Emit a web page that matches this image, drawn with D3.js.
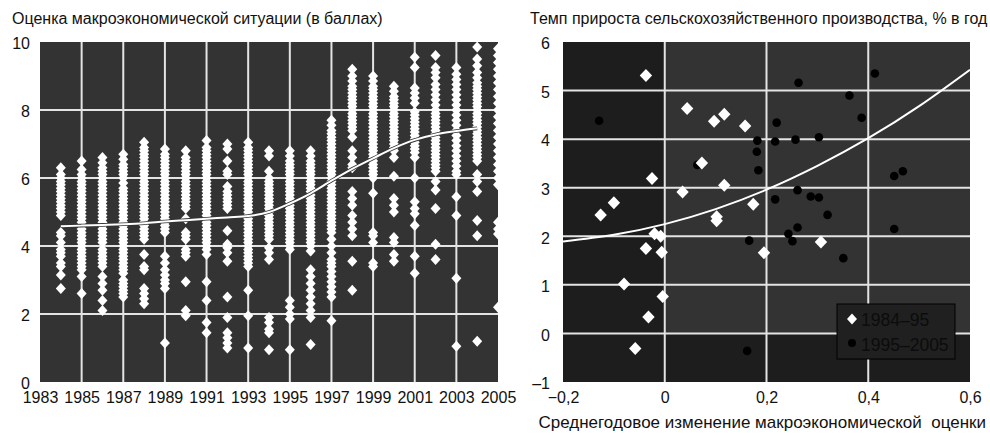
<!DOCTYPE html>
<html>
<head>
<meta charset="utf-8">
<script src="https://cdn.jsdelivr.net/npm/d3@7"></script>
<style>
    body { margin: 0; background: #fff; }
    svg text {
        font-family: 'Liberation Sans', Arial, sans-serif;
        font-size: 16px;
        fill: #111;
    }
</style>
</head>
<body>
<svg id="chart" width="990" height="435"></svg>
<script>
// ---- left panel: macro score by country, one column per year
const years = [1984, 1985, 1986, 1987, 1988, 1989, 1990, 1991, 1992, 1993, 1994,
    1995, 1996, 1997, 1998, 1999, 2000, 2001, 2002, 2003, 2004, 2005];
const yearTicks = [1983, 1985, 1987, 1989, 1991, 1993, 1995, 1997, 1999, 2001, 2003, 2005];
const scoreTicks = [0, 2, 4, 6, 8, 10];

const scores = [
    [6.3, 6.1, 6.0, 5.9, 5.8, 5.7, 5.6, 5.5, 5.4, 5.3, 5.2, 5.1, 5.0, 4.9, 4.4, 4.3, 4.1, 3.9, 3.8, 3.7, 3.5, 3.4, 3.15, 2.75],
    [6.5, 6.25, 6.1, 6.0, 5.9, 5.8, 5.7, 5.6, 5.5, 5.4, 5.3, 5.2, 5.1, 5.0, 4.9, 4.8, 4.7, 4.6, 4.5, 4.4, 4.3, 4.2, 4.1, 4.0, 3.9, 3.8, 3.7, 3.6, 3.5, 3.4, 3.3, 3.1, 2.6],
    [6.6, 6.45, 6.3, 6.2, 6.1, 6.0, 5.9, 5.8, 5.7, 5.6, 5.5, 5.4, 5.3, 5.2, 5.1, 5.0, 4.9, 4.8, 4.7, 4.6, 4.5, 4.4, 4.3, 4.2, 4.1, 3.9, 3.8, 3.7, 3.6, 3.5, 3.4, 3.1, 2.9, 2.7, 2.4, 2.1],
    [6.7, 6.55, 6.4, 6.3, 6.2, 6.1, 6.0, 5.85, 5.7, 5.6, 5.5, 5.4, 5.3, 5.2, 5.1, 5.0, 4.9, 4.8, 4.7, 4.6, 4.5, 4.4, 4.3, 4.2, 4.1, 4.0, 3.9, 3.8, 3.7, 3.6, 3.5, 3.4, 3.3, 3.2, 3.0, 2.9, 2.8, 2.7, 2.6, 2.5],
    [7.05, 6.9, 6.8, 6.7, 6.6, 6.5, 6.4, 6.3, 6.2, 6.1, 6.0, 5.9, 5.8, 5.7, 5.6, 5.5, 5.4, 5.3, 5.2, 5.1, 5.0, 4.9, 4.8, 4.7, 4.6, 4.5, 4.4, 4.3, 4.2, 3.75, 3.4, 3.3, 2.75, 2.6, 2.45, 2.3],
    [6.85, 6.7, 6.6, 6.5, 6.4, 6.3, 6.2, 6.1, 6.0, 5.9, 5.8, 5.7, 5.6, 5.5, 5.4, 5.3, 5.2, 5.1, 5.0, 4.9, 4.8, 4.7, 4.6, 4.5, 4.4, 3.7, 3.5, 3.3, 3.15, 3.0, 2.9, 2.75, 1.15],
    [6.8, 6.6, 6.5, 6.4, 6.3, 6.2, 6.1, 6.0, 5.9, 5.8, 5.7, 5.6, 5.5, 5.4, 5.3, 5.2, 5.1, 4.8, 4.4, 4.3, 4.2, 3.9, 3.8, 3.7, 2.95, 2.1, 1.95],
    [7.1, 6.9, 6.8, 6.7, 6.6, 6.5, 6.4, 6.3, 6.2, 6.1, 6.0, 5.9, 5.8, 5.7, 5.6, 5.5, 5.4, 5.3, 5.2, 5.1, 5.0, 4.9, 4.8, 4.7, 4.6, 4.5, 4.4, 4.3, 4.2, 4.1, 4.0, 3.9, 3.75, 2.95, 2.4, 1.75, 1.45],
    [7.0, 6.85, 6.5, 6.2, 6.1, 5.75, 5.6, 5.5, 5.4, 5.3, 5.2, 5.1, 4.45, 4.05, 3.95, 3.8, 3.55, 2.5, 1.9, 1.45, 1.3, 1.15, 1.0],
    [7.05, 6.9, 6.8, 6.7, 6.6, 6.5, 6.4, 6.3, 6.2, 6.1, 6.0, 5.9, 5.8, 5.7, 5.6, 5.5, 5.4, 5.3, 5.2, 5.1, 5.0, 4.9, 4.8, 4.7, 4.6, 4.5, 4.4, 4.3, 4.2, 4.1, 4.0, 3.9, 3.8, 3.7, 3.6, 3.5, 3.4, 2.7, 1.95, 1.0],
    [6.8, 6.65, 6.2, 6.0, 5.9, 5.8, 5.7, 5.6, 5.5, 5.4, 5.3, 5.2, 5.1, 5.0, 4.9, 4.8, 4.7, 4.6, 4.5, 4.4, 4.3, 4.2, 3.95, 3.8, 3.6, 1.9, 1.75, 1.55, 1.45, 0.95],
    [6.8, 6.65, 6.5, 6.4, 6.3, 6.2, 6.1, 6.0, 5.9, 5.8, 5.7, 5.6, 5.5, 5.4, 5.3, 5.2, 5.1, 5.0, 4.9, 4.8, 4.7, 4.6, 4.5, 4.4, 4.3, 4.2, 4.1, 4.0, 3.9, 2.4, 2.2, 2.0, 1.85, 0.95],
    [6.8, 6.65, 6.5, 6.4, 6.3, 6.2, 6.1, 6.0, 5.9, 5.8, 5.7, 5.6, 5.5, 5.4, 5.3, 5.2, 5.1, 5.0, 4.9, 4.8, 4.7, 4.6, 4.5, 4.4, 4.3, 4.2, 4.1, 4.0, 3.85, 3.3, 3.1, 2.9, 2.7, 2.5, 2.3, 2.1, 1.9, 1.1],
    [7.7, 7.55, 7.4, 7.3, 7.2, 7.1, 7.0, 6.9, 6.8, 6.7, 6.6, 6.5, 6.4, 6.3, 6.2, 6.1, 6.0, 5.9, 5.8, 5.7, 5.6, 5.5, 5.4, 5.3, 5.2, 5.1, 5.0, 4.9, 4.8, 4.7, 4.6, 4.5, 4.4, 4.2, 4.0, 3.8, 3.6, 3.5, 3.4, 3.25, 3.1, 2.95, 2.8, 2.65, 2.5, 1.8],
    [9.2, 9.0, 8.85, 8.7, 8.6, 8.5, 8.4, 8.3, 8.2, 8.1, 8.0, 7.9, 7.8, 7.7, 7.6, 7.5, 7.4, 7.2, 6.8, 6.6, 6.4, 6.3, 5.6, 5.4, 5.2, 4.9, 4.7, 4.5, 4.3, 3.55, 2.7],
    [9.0, 8.85, 8.7, 8.6, 8.5, 8.4, 8.3, 8.2, 8.1, 8.0, 7.9, 7.8, 7.7, 7.6, 7.5, 7.4, 7.3, 7.2, 7.1, 7.0, 6.9, 6.8, 6.7, 6.6, 6.5, 6.4, 6.3, 6.2, 6.1, 6.0, 5.55, 4.4, 4.3, 4.1, 3.5, 3.4],
    [8.7, 8.55, 8.4, 8.3, 8.2, 8.1, 8.0, 7.9, 7.8, 7.7, 7.6, 7.5, 7.4, 7.3, 7.2, 7.1, 7.0, 6.9, 6.8, 6.6, 6.05, 5.4, 5.2, 5.0, 4.25, 4.1, 3.75, 3.55],
    [9.55, 9.25, 8.65, 8.5, 8.35, 8.2, 7.95, 7.85, 7.75, 7.65, 7.55, 7.45, 7.35, 7.25, 7.15, 7.05, 6.95, 6.85, 6.75, 6.6, 6.0, 5.3, 5.1, 4.95, 4.6, 3.7, 3.2],
    [9.6, 9.25, 9.1, 8.95, 8.75, 8.6, 8.45, 8.3, 8.15, 8.0, 7.9, 7.8, 7.7, 7.6, 7.5, 7.4, 7.3, 7.2, 7.1, 7.0, 6.9, 6.8, 6.7, 6.6, 6.5, 6.4, 6.3, 6.2, 5.9, 5.65, 5.1, 4.05, 3.6],
    [9.25, 9.05, 8.9, 8.75, 8.6, 8.45, 8.3, 8.15, 8.0, 7.85, 7.7, 7.55, 7.4, 7.25, 7.1, 6.95, 6.8, 6.65, 6.5, 6.35, 6.2, 6.1, 5.45, 4.9, 3.05, 1.05],
    [9.85, 9.5, 9.3, 9.1, 8.95, 8.8, 8.7, 8.6, 8.5, 8.4, 8.3, 8.2, 8.1, 8.0, 7.9, 7.8, 7.7, 7.6, 7.5, 7.4, 7.3, 7.2, 7.1, 7.0, 6.9, 6.8, 6.7, 6.6, 6.5, 6.1, 5.9, 5.6, 4.75, 4.3, 1.2],
    [9.8, 9.6, 9.4, 9.2, 9.0, 8.8, 8.6, 8.4, 8.2, 8.0, 7.8, 7.6, 7.4, 7.2, 7.0, 6.8, 6.6, 6.4, 6.2, 6.0, 5.8, 4.7, 4.5, 4.35, 2.2]
];

// smoothed average score
const trendYears = [1984, 1985, 1986, 1987, 1988, 1989, 1990, 1991, 1992, 1993, 1994,
    1995, 1996, 1997, 1998, 1999, 2000, 2001, 2002, 2003, 2004];
const trendScores = [4.58, 4.6, 4.62, 4.64, 4.67, 4.72, 4.76, 4.8, 4.84, 4.88, 5.0,
    5.25, 5.55, 5.92, 6.27, 6.58, 6.88, 7.12, 7.28, 7.38, 7.46];

// ---- right panel: agri growth vs change of macro score
const earlyX = [-0.037, 0.044, 0.097, 0.117, 0.158, 0.073, -0.025, 0.117, 0.035, -0.1, -0.126, 0.102,
    0.102, 0.174, -0.02, -0.008, -0.037, -0.006, -0.08, -0.004, -0.032, -0.058, 0.195, 0.307];
const earlyY = [5.31, 4.63, 4.37, 4.51, 4.27, 3.51, 3.19, 3.05, 2.91, 2.69, 2.44, 2.4,
    2.32, 2.66, 2.05, 2.0, 1.75, 1.67, 1.02, 0.76, 0.34, -0.31, 1.66, 1.88];
const lateX = [-0.129, 0.064, 0.182, 0.181, 0.184, 0.413, 0.263, 0.363, 0.387, 0.22, 0.217, 0.257, 0.303, 0.451,
    0.468, 0.261, 0.217, 0.287, 0.303, 0.32, 0.451, 0.261, 0.243, 0.251, 0.166, 0.351, 0.162];
const lateY = [4.38, 3.47, 3.97, 3.74, 3.36, 5.35, 5.16, 4.9, 4.44, 4.34, 3.95, 3.99, 4.04, 3.24,
    3.34, 2.95, 2.76, 2.82, 2.8, 2.44, 2.15, 2.18, 2.05, 1.9, 1.91, 1.55, -0.36];
const fitX = [-0.2, -0.1, 0, 0.1, 0.2, 0.3, 0.4, 0.5, 0.6];
const fitY = [1.89, 2.03, 2.25, 2.56, 2.96, 3.45, 4.02, 4.68, 5.43];
const changeTicks = [-0.2, 0, 0.2, 0.4, 0.6];
const growthTicks = [-1, 0, 1, 2, 3, 4, 5, 6];
const legendLabels = ['1984–95', '1995–2005'];

const gridColor = '#e4e4e4';
const svg = d3.select('#chart');

const diamondPath = (w, h) => `M0,${-h}L${w},0L0,${h}L${-w},0Z`;
const commaFormat = (d) => d === 0 ? '0' : d3.format('.1f')(d).replace('.', ',').replace('-', '–');

// ================= left panel =================
const xL = d3.scaleLinear().domain([1983, 2005]).range([40, 498]);
const yL = d3.scaleLinear().domain([0, 10]).range([382, 42]);

svg.append('clipPath').attr('id', 'clipL')
    .append('rect')
    .attr('x', xL(1983)).attr('y', yL(10))
    .attr('width', xL(2005) - xL(1983)).attr('height', yL(0) - yL(10));

const left = svg.append('g');
left.append('rect')
    .attr('x', xL(1983)).attr('y', yL(10))
    .attr('width', xL(2005) - xL(1983)).attr('height', yL(0) - yL(10))
    .attr('fill', '#333');

left.append('g')
    .selectAll('line')
    .data(yearTicks.slice(1, -1))
    .join('line')
    .attr('x1', d => xL(d)).attr('x2', d => xL(d))
    .attr('y1', yL(10)).attr('y2', yL(0))
    .attr('stroke', gridColor).attr('stroke-width', 2);

left.append('g')
    .selectAll('line')
    .data(scoreTicks.slice(1, -1))
    .join('line')
    .attr('x1', xL(1983)).attr('x2', xL(2005))
    .attr('y1', d => yL(d)).attr('y2', d => yL(d))
    .attr('stroke', gridColor).attr('stroke-width', 2);

const points = [];
years.forEach((yr, i) => {
    scores[i].forEach(v => points.push({ year: yr, value: v }));
});

left.append('g')
    .attr('clip-path', 'url(#clipL)')
    .selectAll('path')
    .data(points)
    .join('path')
    .attr('d', diamondPath(5, 5.5))
    .attr('transform', d => `translate(${xL(d.year)},${yL(d.value)})`)
    .attr('fill', '#fff');

const trend = trendYears.map((yr, i) => [yr, trendScores[i]]);
const trendLine = d3.line()
    .x(d => xL(d[0]))
    .y(d => yL(d[1]))
    .curve(d3.curveMonotoneX);

// thin dark edge so the curve stays readable across the columns
left.append('path')
    .attr('d', trendLine(trend))
    .attr('fill', 'none')
    .attr('stroke', '#333')
    .attr('stroke-width', 3.6);
left.append('path')
    .attr('d', trendLine(trend))
    .attr('fill', 'none')
    .attr('stroke', '#fff')
    .attr('stroke-width', 2);

const axisYearL = svg.append('g')
    .attr('transform', `translate(0,${yL(0)})`)
    .call(d3.axisBottom(xL).tickValues(yearTicks).tickFormat(d3.format('d')).tickSize(0).tickPadding(10));
axisYearL.select('.domain').remove();

const axisScoreL = svg.append('g')
    .attr('transform', `translate(${xL(1983)},0)`)
    .call(d3.axisLeft(yL).tickValues(scoreTicks).tickSize(0).tickPadding(10));
axisScoreL.select('.domain').remove();
axisScoreL.selectAll('text').attr('dy', '0.42em');

svg.append('text')
    .attr('x', 12).attr('y', 23.5)
    .text('Оценка макроэкономической ситуации (в баллах)');

// ================= right panel =================
const xR = d3.scaleLinear().domain([-0.2, 0.6]).range([563, 970]);
const yR = d3.scaleLinear().domain([-1, 6]).range([382, 42]);

svg.append('clipPath').attr('id', 'clipR')
    .append('rect')
    .attr('x', xR(-0.2)).attr('y', yR(6))
    .attr('width', xR(0.6) - xR(-0.2)).attr('height', yR(-1) - yR(6));

const right = svg.append('g');
right.append('rect')
    .attr('x', xR(-0.2)).attr('y', yR(6))
    .attr('width', xR(0.6) - xR(-0.2)).attr('height', yR(-1) - yR(6))
    .attr('fill', '#1d1d1d');
right.append('rect')
    .attr('x', xR(0)).attr('y', yR(6))
    .attr('width', xR(0.6) - xR(0)).attr('height', yR(0) - yR(6))
    .attr('fill', '#333');

right.append('g')
    .selectAll('line')
    .data(changeTicks.slice(1, -1))
    .join('line')
    .attr('x1', d => xR(d)).attr('x2', d => xR(d))
    .attr('y1', yR(6)).attr('y2', yR(-1))
    .attr('stroke', gridColor).attr('stroke-width', 2);

right.append('g')
    .selectAll('line')
    .data(growthTicks.slice(1, -1))
    .join('line')
    .attr('x1', xR(-0.2)).attr('x2', xR(0.6))
    .attr('y1', d => yR(d)).attr('y2', d => yR(d))
    .attr('stroke', gridColor).attr('stroke-width', 2);

const fit = fitX.map((x, i) => [x, fitY[i]]);
right.append('path')
    .attr('clip-path', 'url(#clipR)')
    .attr('d', d3.line().x(d => xR(d[0])).y(d => yR(d[1])).curve(d3.curveNatural)(fit))
    .attr('fill', 'none')
    .attr('stroke', '#fff')
    .attr('stroke-width', 2);

const late = lateX.map((x, i) => ({ x: x, y: lateY[i] }));
const early = earlyX.map((x, i) => ({ x: x, y: earlyY[i] }));

right.append('g')
    .selectAll('circle')
    .data(late)
    .join('circle')
    .attr('cx', d => xR(d.x))
    .attr('cy', d => yR(d.y))
    .attr('r', 4.3)
    .attr('fill', '#000');

right.append('g')
    .selectAll('path')
    .data(early)
    .join('path')
    .attr('d', diamondPath(6.2, 6.5))
    .attr('transform', d => `translate(${xR(d.x)},${yR(d.y)})`)
    .attr('fill', '#fff');

// legend
const legend = svg.append('g').attr('transform', 'translate(837,304)');
legend.append('rect')
    .attr('width', 118).attr('height', 55)
    .attr('fill', '#202020')
    .attr('stroke', '#000');
legend.append('path')
    .attr('d', diamondPath(5, 5.5))
    .attr('transform', 'translate(15,15)')
    .attr('fill', '#fff');
legend.append('circle')
    .attr('cx', 15).attr('cy', 39).attr('r', 4)
    .attr('fill', '#000');
legend.selectAll('text.lg')
    .data(legendLabels)
    .join('text')
    .attr('class', 'lg')
    .attr('x', 24)
    .attr('y', (d, i) => 22 + i * 25)
    .style('font-size', '17.5px')
    .style('fill', '#0c0c0c')
    .text(d => d);

const axisChangeR = svg.append('g')
    .attr('transform', `translate(0,${yR(-1)})`)
    .call(d3.axisBottom(xR).tickValues(changeTicks).tickFormat(commaFormat).tickSize(0).tickPadding(10));
axisChangeR.select('.domain').remove();

const axisGrowthR = svg.append('g')
    .attr('transform', `translate(${xR(-0.2)},0)`)
    .call(d3.axisLeft(yR).tickValues(growthTicks).tickFormat(d => d < 0 ? '–' + Math.abs(d) : d).tickSize(0).tickPadding(13));
axisGrowthR.select('.domain').remove();
axisGrowthR.selectAll('text').attr('dy', '0.42em');

svg.selectAll('.tick text').style('fill', '#111');

svg.append('text')
    .attr('x', 530).attr('y', 23.5)
    .text('Темп прироста сельскохозяйственного производства, % в год');

svg.append('text')
    .attr('x', 986).attr('y', 428)
    .attr('text-anchor', 'end')
    .style('font-size', '17px')
    .style('white-space', 'pre')
    .text('Среднегодовое изменение макроэкономической  оценки');
</script>
</body>
</html>
